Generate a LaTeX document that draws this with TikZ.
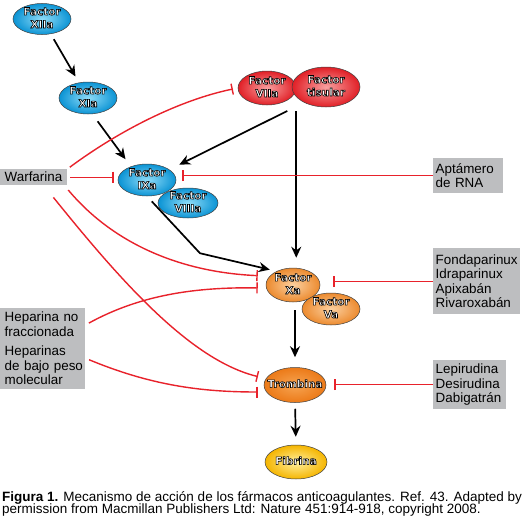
\documentclass[tikz,border=0pt]{standalone}
\usepackage{fontspec}
\setmainfont{Liberation Sans}
\newfontfamily\ellfont{DejaVu Sans}
\usetikzlibrary{arrows.meta,shapes.geometric,calc}
\definecolor{bluein}{HTML}{8FDCF8}
\definecolor{blueout}{HTML}{0A93D4}
\definecolor{redin}{HTML}{F8A0A0}
\definecolor{redout}{HTML}{E11F26}
\definecolor{orin}{HTML}{FBD0A0}
\definecolor{orout}{HTML}{EC8A2E}
\definecolor{trin}{HTML}{F6A452}
\definecolor{trout}{HTML}{EC7A18}
\definecolor{yein}{HTML}{FFF0A0}
\definecolor{yeout}{HTML}{F5B500}
\definecolor{boxgray}{HTML}{BDBEC0}
\definecolor{inhred}{HTML}{E8222B}
% white letters with a thin black outline (PDF text render mode 2)
\newcommand\olt[1]{\special{pdf:literal direct 0 G 0.6 w 2 Tr}\begin{tabular}{@{}c@{}}#1\end{tabular}\special{pdf:literal direct 0 Tr}}
\tikzset{
  ell/.style={ellipse, draw=black!75, line width=0.5pt, inner sep=0pt},
  blueell/.style={ell, inner color=bluein, outer color=blueout},
  redell/.style={ell, inner color=redin, outer color=redout},
  orell/.style={ell, inner color=orin, outer color=orout},
  trell/.style={ell, inner color=trin, outer color=trout},
  yeell/.style={ell, inner color=yein, outer color=yeout},
  ftxt/.style={inner sep=0pt, text=white, font=\ellfont\bfseries\fontsize{10.5}{12.8}\selectfont},
  gbox/.style={fill=boxgray, anchor=north west, align=left, inner ysep=0pt, inner xsep=2.5pt,
               font=\fontsize{13.4}{14.5}\selectfont},
  act/.style={-{Stealth[length=11pt,width=10pt]}, line width=1.7pt, black},
  inh/.style={-{Bar[width=11pt,line width=1.4pt]}, line width=1.4pt, inhred},
  capt/.style={inner sep=0pt, anchor=base west, font=\fontsize{13.5}{12.8}\selectfont}
}
\begin{document}
\begin{tikzpicture}[x=1pt,y=-1pt]
\useasboundingbox[fill=white] (0,0) rectangle (524,530);

% ellipses
\node[blueell, minimum width=58pt, minimum height=31pt] (xiia) at (42,19) {};
\node[ftxt] (xiiat) at (xiia) {\olt{Factor\\XIIa}};
\node[blueell, minimum width=58pt, minimum height=32pt] (xia) at (88,98) {};
\node[ftxt] (xiat) at (xia) {\olt{Factor\\XIa}};
\node[redell, minimum width=58pt, minimum height=34pt] (viia) at (267,88) {};
\node[ftxt] (viiat) at (viia) {\olt{Factor\\VIIa}};
\node[redell, minimum width=68pt, minimum height=40pt] (tis) at (326,87) {};
\node[ftxt] (tist) at (tis) {\olt{Factor\\tisular}};
\node[blueell, minimum width=58pt, minimum height=32pt] (ixa) at (147,180) {};
\node[ftxt] (ixat) at (ixa) {\olt{Factor\\IXa}};
\node[blueell, minimum width=60pt, minimum height=30pt] (viiia) at (188,203) {};
\node[ftxt] (viiiat) at (viiia) {\olt{Factor\\VIIIa}};
\node[orell, minimum width=54pt, minimum height=34pt] (xa) at (293,285) {};
\node[ftxt] (xat) at (xa) {\olt{Factor\\Xa}};
\node[orell, minimum width=58pt, minimum height=32pt] (va) at (331,309) {};
\node[ftxt] (vat) at (va) {\olt{Factor\\Va}};
\node[trell, minimum width=62pt, minimum height=35pt] (trom) at (295,385) {};
\node[ftxt] (tromt) at (trom) {\olt{Trombina}};
\node[yeell, minimum width=62pt, minimum height=34pt] (fib) at (296,462) {};
\node[ftxt] (fibt) at (fib) {\olt{Fibrina}};

% grey boxes
\node[gbox, inner xsep=4.5pt, text width=58pt, minimum height=16pt] (warf) at (0,169) {Warfarina};
\node[gbox, text width=65pt, minimum height=35pt] (apt) at (433,158) {Aptámero\\de RNA};
\node[gbox, text width=82pt, minimum height=66pt] (fonda) at (433,248) {Fondaparinux\\Idraparinux\\Apixabán\\Rivaroxabán};
\node[gbox, inner xsep=4.5pt, text width=76pt, minimum height=81pt] (hep) at (0,308)
  {\mbox{Heparina no}\\fraccionada\\[5pt]Heparinas\\\mbox{de bajo peso}\\molecular};
\node[gbox, text width=68pt, minimum height=49pt] (lepi) at (433,360) {Lepirudina\\Desirudina\\Dabigatrán};

% activation arrows
\coordinate (cpx) at ([yshift=-23pt]viia.east);
\draw[act, shorten <=6pt, shorten >=7pt] (xiia) -- (xia);
\draw[act, shorten <=9pt, shorten >=9pt] (xia.-75) -- (ixa.140);
\draw[act, shorten >=11pt] ([xshift=-9pt]cpx) -- (ixa.25);
\draw[act, shorten >=10pt] (cpx) -- (cpx |- xa.north);
\draw[act, shorten <=7pt, shorten >=7pt] (ixa.south) -- ++(53,57) -- (xa.140);
\draw[act, shorten <=8pt, shorten >=10pt] (trom.north |- xa.south) -- (trom.north);
\draw[act, shorten <=6pt, shorten >=8pt] (trom.south) -- (fib.north);

% inhibition lines
\draw[inh, shorten <=3pt, shorten >=4pt] (warf.east) -- (warf.east -| ixa.west);
\draw[inh, shorten >=6pt] (apt.west) -- (apt.west -| ixa.east);
\draw[inh, shorten >=13pt] (fonda.west) -- (fonda.west -| xa.east);
\draw[inh, shorten >=8pt] (lepi.west) -- (lepi.west -| trom.east);
\draw[inh, shorten <=3pt, shorten >=5pt] (warf.north east) .. controls (120,130) and (180,100) .. (viia.west);
\draw[inh, shorten <=6pt, shorten >=8pt] ([xshift=-3pt]warf.south east) .. controls (110,240) and (175,272) .. ([yshift=9pt]xa.west);
\draw[inh, shorten >=6pt] ([shift={(-14,12)}]warf.south east) .. controls (120,280) and (190,360) .. ([yshift=7pt]trom.west);
\draw[inh, shorten <=4pt, shorten >=8pt] ([yshift=-17pt]hep.north east) .. controls (140,295) and (195,287) .. ([yshift=-3pt]xa.west);
\draw[inh, shorten <=4pt, shorten >=6pt] ([yshift=-9.5pt]hep.east) .. controls (150,385) and (200,392) .. ([yshift=-7pt]trom.west);

% caption
\node[capt] (cap1) at (2,501) {\textbf{Figura 1.} Mecanismo de acción de los fármacos anticoagulantes. Ref. 43. Adapted by};
\node[capt] (cap2) at (2,513.7) {permission from Macmillan Publishers Ltd: Nature 451:914-918, copyright 2008.};
\end{tikzpicture}
\end{document}
